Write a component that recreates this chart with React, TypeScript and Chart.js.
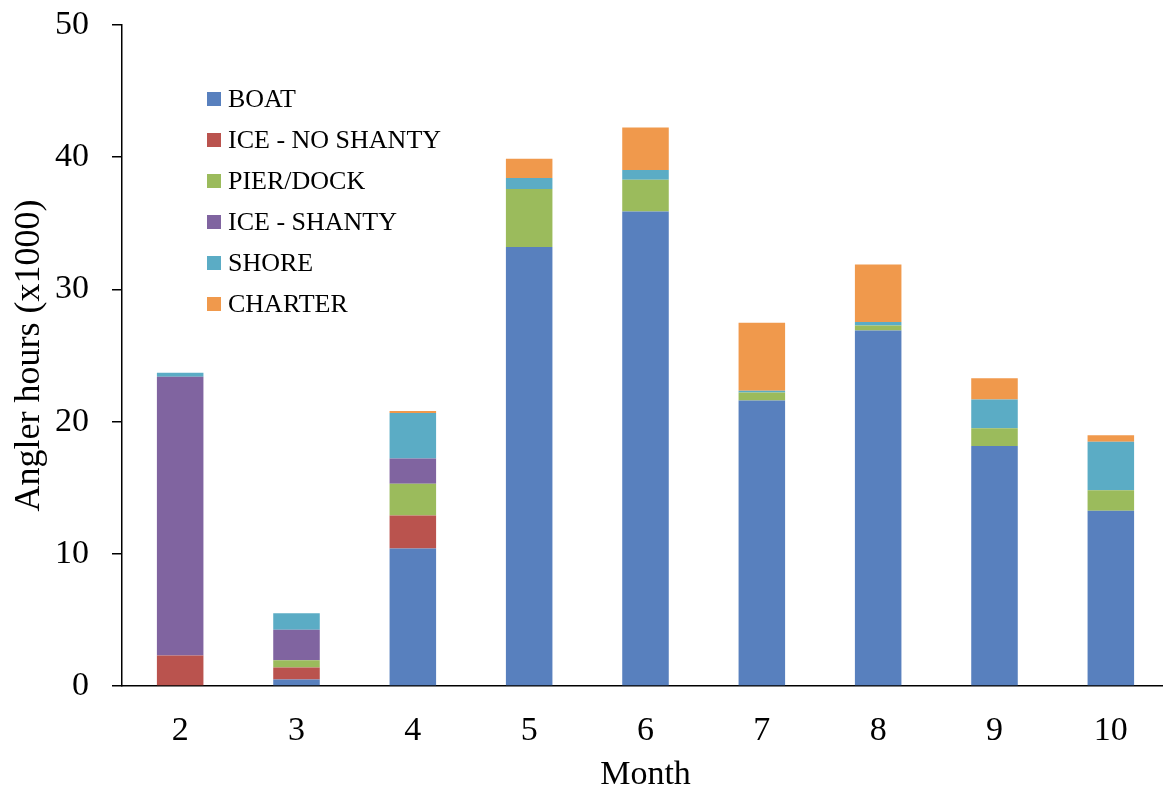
import React, { useEffect, useRef } from "react";
import { Chart, registerables } from "chart.js";

Chart.register(...registerables);

// Monthly angler effort by fishing type (thousands of hours)
const months = ["2", "3", "4", "5", "6", "7", "8", "9", "10"];
const boat = [0, 0.5, 10.4, 33.2, 35.9, 21.6, 26.9, 18.15, 13.25];
const iceNoShanty = [2.3, 0.9, 2.5, 0, 0, 0, 0, 0, 0];
const pierDock = [0, 0.55, 2.4, 4.4, 2.4, 0.6, 0.37, 1.34, 1.56];
const iceShanty = [21.1, 2.3, 1.9, 0, 0, 0, 0, 0, 0];
const shore = [0.3, 1.25, 3.45, 0.83, 0.73, 0.14, 0.26, 2.19, 3.66];
const charter = [0, 0, 0.15, 1.46, 3.22, 5.13, 4.36, 1.59, 0.5];

const seriesNames = ["BOAT", "ICE - NO SHANTY", "PIER/DOCK", "ICE - SHANTY", "SHORE", "CHARTER"];
const seriesValues = [boat, iceNoShanty, pierDock, iceShanty, shore, charter];
const seriesColors = ["#5880BE", "#BA534E", "#9BBB5C", "#8064A0", "#5BACC5", "#F0994C"];

const yTicks = [0, 10, 20, 30, 40, 50];

const FONT = "'Liberation Serif', 'Times New Roman', serif";

// Vertical legend drawn inside the plot area, top-left
const insideLegend = {
  id: "insideLegend",
  afterDraw(chart: any) {
    const { ctx, chartArea } = chart;
    const x0 = chartArea.left + 85;
    const y0 = chartArea.top + 74;
    const rowGap = 41;
    ctx.save();
    ctx.font = `26px ${FONT}`;
    ctx.textBaseline = "middle";
    ctx.textAlign = "left";
    chart.data.datasets.forEach((ds: any, i: number) => {
      const cy = y0 + i * rowGap;
      ctx.fillStyle = ds.backgroundColor;
      ctx.fillRect(x0, cy - 7, 14, 14);
      ctx.fillStyle = "#000";
      ctx.fillText(ds.label, x0 + 21, cy + 1);
    });
    ctx.restore();
  },
};

export default function App() {
  const canvasRef = useRef<HTMLCanvasElement | null>(null);

  useEffect(() => {
    const canvas = canvasRef.current;
    if (!canvas) return;
    const chart = new Chart(canvas, {
      type: "bar",
      data: {
        labels: months,
        datasets: seriesNames.map((name, i) => ({
          label: name,
          data: seriesValues[i],
          backgroundColor: seriesColors[i],
          borderWidth: 0,
          barPercentage: 0.4,
          categoryPercentage: 1,
        })),
      },
      options: {
        responsive: false,
        animation: false,
        layout: { padding: { top: 25, right: 1, left: 0, bottom: 0 } },
        plugins: {
          legend: { display: false },
          tooltip: { enabled: false },
        },
        scales: {
          x: {
            stacked: true,
            grid: { display: false },
            border: { display: true, color: "#000", width: 1.5 },
            ticks: { color: "#000", font: { family: FONT, size: 34 }, padding: 17 },
            title: {
              display: true,
              text: "Month",
              color: "#000",
              font: { family: FONT, size: 34 },
              padding: { top: 0, bottom: 0 },
            },
            afterFit: (scale: any) => {
              scale.height = 109;
              scale.paddingLeft = 0;
              scale.paddingRight = 0;
            },
          },
          y: {
            stacked: true,
            min: 0,
            max: 50,
            afterBuildTicks: (scale: any) => {
              scale.ticks = yTicks.map((v) => ({ value: v }));
            },
            grid: {
              drawOnChartArea: false,
              drawTicks: true,
              tickLength: 10,
              color: "#000",
              lineWidth: 1.5,
            },
            border: { display: true, color: "#000", width: 1.5 },
            ticks: { color: "#000", font: { family: FONT, size: 34 }, padding: 23 },
            title: {
              display: true,
              text: "Angler hours (x1000)",
              color: "#000",
              font: { family: FONT, size: 36 },
              padding: { top: 8, bottom: 0 },
            },
            afterFit: (scale: any) => {
              scale.width = 122;
              scale.paddingTop = 0;
              scale.paddingBottom = 0;
            },
          },
        },
      },
      plugins: [insideLegend],
    });
    return () => chart.destroy();
  }, []);

  return (
    <div
      style={{
        position: "fixed",
        left: 0,
        top: 0,
        width: 1163,
        height: 795,
        overflow: "hidden",
        background: "#fff",
      }}
    >
      <canvas ref={canvasRef} width={1170} height={795} style={{ display: "block" }} />
    </div>
  );
}
